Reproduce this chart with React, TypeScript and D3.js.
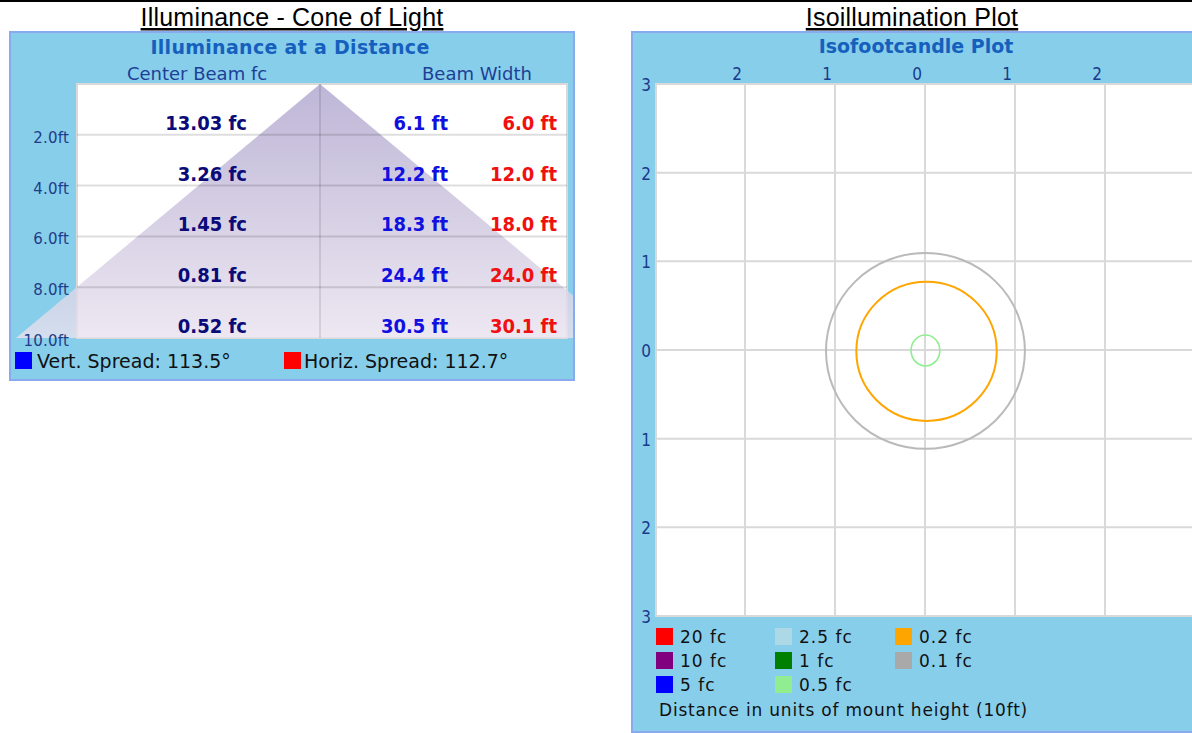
import * as d3 from "d3";

// left chart: illuminance at a distance
const distances = [2, 4, 6, 8, 10];
const distanceLabels = ["2.0ft", "4.0ft", "6.0ft", "8.0ft", "10.0ft"];
const centerBeamFc = [13.03, 3.26, 1.45, 0.81, 0.52];
const vertBeamWidth = [6.1, 12.2, 18.3, 24.4, 30.5];
const horizBeamWidth = [6.0, 12.0, 18.0, 24.0, 30.1];
const vertSpread = 113.5;
const horizSpread = 112.7;

// right chart: isofootcandle plot
const topTicks = [-2, -1, 0, 1, 2];
const sideTicks = [3, 2, 1, 0, -1, -2, -3];
const legendLevels = ["20 fc", "10 fc", "5 fc", "2.5 fc", "1 fc", "0.5 fc", "0.2 fc", "0.1 fc"];
const legendColors = ["#ff0000", "#800080", "#0000ff", "#add8e6", "#008000", "#90ee90", "#ffa500", "#a9a9a9"];
const contourLevels = ["0.1 fc", "0.2 fc", "0.5 fc"];
const contourCx = [0.005, 0.017, 0.005];
const contourCy = [-0.01, -0.015, -0.005];
const contourRx = [1.105, 0.78, 0.16];
const contourRy = [1.105, 0.785, 0.175];
const contourColors = ["#bababa", "#ffa500", "#90ee90"];

const W = 1192, H = 733;
const panelBg = "#87ceeb";
const panelBorder = "#8aaaf0";
const gridColor = "#d9d9d9";
const sans = "DejaVu Sans, Verdana, sans-serif";
const cond = "DejaVu Sans Condensed, DejaVu Sans, sans-serif";

const ConeChart = () => {
  const plot = { left: 77, right: 567, top: 84, bottom: 338 };
  const y = d3.scaleLinear().domain([0, 10]).range([plot.top, plot.bottom]);
  const half = vertBeamWidth[vertBeamWidth.length - 1] / 2;
  const x = d3.scaleLinear().domain([-half, half]).range([16, 624]);
  const cone = d3.line()([
    [x(0), y(0)],
    [x(-half), y(10)],
    [x(half), y(10)],
  ]) + "Z";
  const fc = d3.format(".2f");
  const ft = d3.format(".1f");

  return (
    <g>
      <text x={292} y={26} textAnchor="middle" fontFamily="Liberation Sans, Arial" fontSize={25}
        letterSpacing={0.2} textDecoration="underline">Illuminance - Cone of Light</text>
      <rect x={10} y={32} width={564} height={348} fill={panelBg} stroke={panelBorder} strokeWidth={2} />
      <text x={290} y={54} textAnchor="middle" fontFamily={sans} fontWeight="bold" fontSize={19}
        letterSpacing={0.3} fill="#1560bd">Illuminance at a Distance</text>
      <text x={197} y={80} textAnchor="middle" fontFamily={sans} fontSize={18} fill="#1e3f96">Center Beam fc</text>
      <text x={477} y={80} textAnchor="middle" fontFamily={sans} fontSize={18} fill="#1e3f96">Beam Width</text>

      <rect x={plot.left} y={plot.top} width={plot.right - plot.left} height={plot.bottom - plot.top}
        fill="#fff" stroke={gridColor} strokeWidth={2} />
      <defs>
        <linearGradient id="coneGrad" gradientUnits="userSpaceOnUse" x1={0} y1={y(0)} x2={0} y2={y(10)}>
          <stop offset="0%" stopColor="rgb(174,164,205)" />
          <stop offset="100%" stopColor="rgb(232,226,238)" />
        </linearGradient>
        <clipPath id="coneClip">
          <rect x={11} y={33} width={562} height={plot.bottom - 33} />
        </clipPath>
      </defs>
      <path d={cone} fill="url(#coneGrad)" fillOpacity={0.8} clipPath="url(#coneClip)" />

      {distances.slice(0, -1).map(d => (
        <line key={d} x1={plot.left} x2={plot.right} y1={y(d)} y2={y(d)} stroke="#000" strokeOpacity={0.13} strokeWidth={2} />
      ))}
      <line x1={x(0)} x2={x(0)} y1={plot.top} y2={plot.bottom} stroke="#000" strokeOpacity={0.1} strokeWidth={2} />

      {distances.map((d, i) => (
        <g key={d}>
          <text x={69} y={y(d) + 8} textAnchor="end" fontFamily={sans} fontSize={15} letterSpacing={0.2}
            fill="#1f3c88">{distanceLabels[i]}</text>
          <text x={247} y={y(d) - 5} textAnchor="end" fontFamily={cond} fontWeight="bold" fontSize={20}
            fill="#0a0a78">{fc(centerBeamFc[i])} fc</text>
          <text x={448} y={y(d) - 5} textAnchor="end" fontFamily={cond} fontWeight="bold" fontSize={20}
            fill="#1010e0">{ft(vertBeamWidth[i])} ft</text>
          <text x={557} y={y(d) - 5} textAnchor="end" fontFamily={cond} fontWeight="bold" fontSize={20}
            fill="#f01010">{ft(horizBeamWidth[i])} ft</text>
        </g>
      ))}

      <rect x={15} y={352} width={17} height={17} fill="#0000ff" />
      <text x={37} y={368} fontFamily={sans} fontSize={19} fill="#111">Vert. Spread: {vertSpread}°</text>
      <rect x={284} y={352} width={17} height={17} fill="#ff0000" />
      <text x={304} y={368} fontFamily={sans} fontSize={19} fill="#111">Horiz. Spread: {horizSpread}°</text>
    </g>
  );
};

const IsoPlot = () => {
  const plot = { left: 656, right: W, top: 84, bottom: 616 };
  const x = d3.scaleLinear().domain([-3, 3]).range([655, 1195]);
  const y = d3.scaleLinear().domain([3, -3]).range([plot.top, plot.bottom]);
  const colX = [656, 775, 895];

  return (
    <g>
      <text x={912} y={26} textAnchor="middle" fontFamily="Liberation Sans, Arial" fontSize={25}
        letterSpacing={0.2} textDecoration="underline">Isoillumination Plot</text>
      <rect x={632} y={32} width={600} height={700} fill={panelBg} stroke={panelBorder} strokeWidth={2} />
      <text x={916} y={53} textAnchor="middle" fontFamily={sans} fontWeight="bold" fontSize={19}
        fill="#1560bd">Isofootcandle Plot</text>

      <rect x={plot.left} y={plot.top} width={plot.right - plot.left + 10} height={plot.bottom - plot.top}
        fill="#fff" stroke={gridColor} strokeWidth={2} />
      {x.ticks(6).filter(t => t > -3 && t < 3).map(t => (
        <line key={"vx" + t} x1={x(t)} x2={x(t)} y1={plot.top} y2={plot.bottom} stroke={gridColor} strokeWidth={2} />
      ))}
      {y.ticks(6).filter(t => t > -3 && t < 3).map(t => (
        <line key={"hy" + t} x1={plot.left} x2={plot.right} y1={y(t)} y2={y(t)} stroke={gridColor} strokeWidth={2} />
      ))}

      {topTicks.map(t => (
        <text key={"tt" + t} x={x(t) - 8} y={80} textAnchor="middle" fontFamily={cond} fontSize={17}
          fill="#1a3a8a">{Math.abs(t)}</text>
      ))}
      {sideTicks.map(t => (
        <text key={"st" + t} x={646} y={y(t) + 7} textAnchor="middle" fontFamily={cond} fontSize={17}
          fill="#1a3a8a">{Math.abs(t)}</text>
      ))}

      {contourLevels.map((lvl, i) => (
        <ellipse key={lvl} cx={x(contourCx[i])} cy={y(contourCy[i])}
          rx={x(contourRx[i]) - x(0)} ry={y(0) - y(contourRy[i])}
          fill="none" stroke={contourColors[i]} strokeWidth={i === 2 ? 1.6 : 2} />
      ))}

      {legendLevels.map((lvl, i) => {
        const col = Math.floor(i / 3), row = i % 3;
        const ly = 628 + row * 24;
        return (
          <g key={lvl}>
            <rect x={colX[col]} y={ly} width={17} height={17} fill={legendColors[i]} />
            <text x={colX[col] + 24} y={ly + 15} fontFamily={sans} fontSize={17} letterSpacing={1}
              fill="#111">{lvl}</text>
          </g>
        );
      })}
      <text x={659} y={716} fontFamily={sans} fontSize={17} letterSpacing={0.8} fill="#111">
        Distance in units of mount height (10ft)
      </text>
    </g>
  );
};

export default function App() {
  return (
    <div style={{ position: "absolute", left: 0, top: 0 }}>
      <svg width={W} height={H} viewBox={`0 0 ${W} ${H}`} style={{ display: "block" }}>
        <rect x={0} y={0} width={W} height={H} fill="#fff" />
        <rect x={0} y={0} width={W} height={2} fill="#000" />
        <ConeChart />
        <IsoPlot />
      </svg>
    </div>
  );
}
